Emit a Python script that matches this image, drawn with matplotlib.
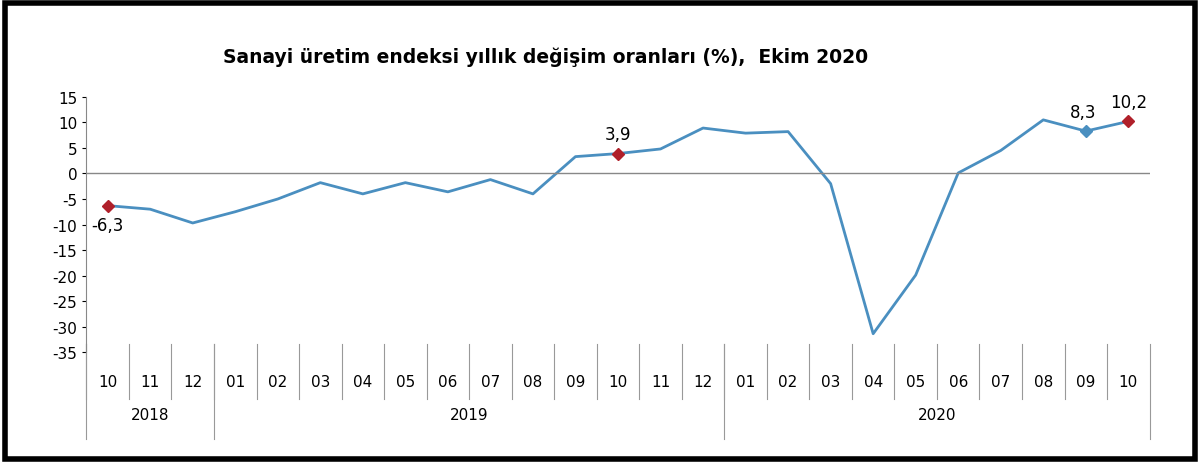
import matplotlib.pyplot as plt
from matplotlib.patches import Rectangle

plt.rcParams['axes.unicode_minus'] = False

months = ['10', '11', '12', '01', '02', '03', '04', '05', '06', '07', '08', '09',
          '10', '11', '12', '01', '02', '03', '04', '05', '06', '07', '08', '09', '10']
values = [-6.3, -7.0, -9.7, -7.5, -5.0, -1.8, -4.0, -1.8, -3.6, -1.2, -4.0, 3.3,
          3.9, 4.8, 8.9, 7.9, 8.2, -2.0, -31.4, -19.9, 0.1, 4.5, 10.5, 8.3, 10.2]
years = ['2018', '2019', '2020']
year_bounds = [-0.5, 2.5, 14.5, 24.5]
red_points = [0, 12, 24]
blue_points = [23]

line_color = '#4a8fc0'
red = '#b0202a'

fig = plt.figure(figsize=(12, 4.64), dpi=100)
fig.patches.append(Rectangle((0.004, 0.008), 0.992, 0.984, transform=fig.transFigure,
                             fill=False, edgecolor='black', linewidth=4))
ax = fig.add_axes([0.072, 0.239, 0.886, 0.55])
x = list(range(len(values)))
ax.plot(x, values, color=line_color, linewidth=2)
ax.plot([x[i] for i in red_points], [values[i] for i in red_points], 'D', color=red, ms=6)
ax.plot([x[i] for i in blue_points], [values[i] for i in blue_points], 'D', color=line_color, ms=6)
ax.axhline(0, color='#888888', linewidth=1)

ax.set_xlim(-0.5, len(values) - 0.5)
ax.set_ylim(-35, 15)
ax.set_yticks(range(-35, 16, 5))
ax.tick_params(axis='y', labelsize=11, length=3)
ax.set_xticks([])
for s in ['top', 'right', 'bottom']:
    ax.spines[s].set_visible(False)
ax.spines['left'].set_color('#888888')

tr = ax.get_xaxis_transform()
for i, m in enumerate(months):
    ax.text(i, -0.114, m, transform=tr, ha='center', va='center', fontsize=11)
    ax.plot([i - 0.5, i - 0.5], [0.03, -0.184], transform=tr, color='#999999', lw=0.8, clip_on=False)
for b in year_bounds:
    ax.plot([b, b], [0.03, -0.34], transform=tr, color='#999999', lw=0.8, clip_on=False)
for k, y in enumerate(years):
    ax.text((year_bounds[k] + year_bounds[k + 1]) / 2, -0.243, y, transform=tr,
            ha='center', va='center', fontsize=11)

ax.annotate('-6,3', (0, values[0]), xytext=(0, -14), textcoords='offset points',
            ha='center', va='center', fontsize=12)
ax.annotate('3,9', (12, values[12]), xytext=(0, 14), textcoords='offset points',
            ha='center', va='center', fontsize=12)
ax.annotate('8,3', (23, values[23]), xytext=(-2, 14), textcoords='offset points',
            ha='center', va='center', fontsize=12)
ax.annotate('10,2', (24, values[24]), xytext=(0, 14), textcoords='offset points',
            ha='center', va='center', fontsize=12)

fig.text(0.455, 0.877, 'Sanayi üretim endeksi yıllık değişim oranları (%),  Ekim 2020',
         ha='center', va='center', fontsize=13.5, fontweight='bold')
fig.savefig('out.png')
